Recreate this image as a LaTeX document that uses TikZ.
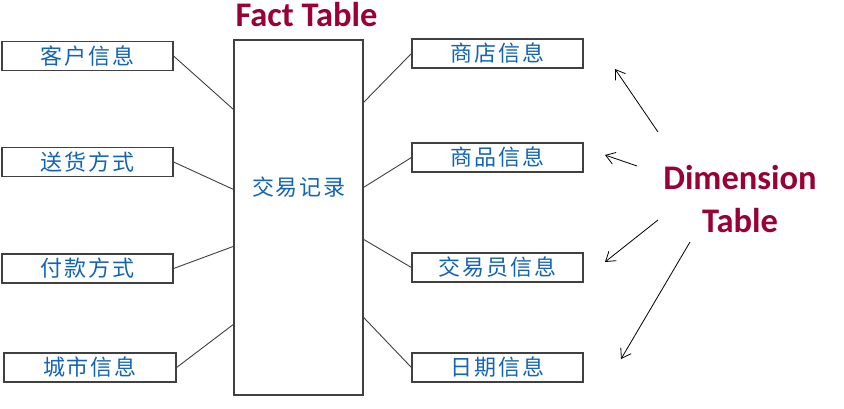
\documentclass[tikz,border=0pt]{standalone}
\usepackage{fontspec}
\setmainfont{Carlito}
\newfontfamily\cjk[LetterSpace=9]{Noto Sans CJK SC}
\usetikzlibrary{arrows.meta}
\definecolor{factred}{RGB}{153,0,51}
\definecolor{cjkblue}{RGB}{20,100,180}
\definecolor{edgegray}{RGB}{64,64,64}
\begin{document}
\begin{tikzpicture}[x=1pt,y=-1pt,
  dimbox/.style={draw=edgegray, line width=1.2pt, minimum width=171pt, minimum height=29pt,
    inner sep=0pt, font=\cjk\fontsize{22}{24}\selectfont, text=cjkblue},
  factbox/.style={draw=edgegray, line width=1.2pt, minimum width=129pt, minimum height=355pt,
    inner sep=0pt},
  factlabel/.style={inner sep=0pt, font=\cjk\fontsize{22}{24}\selectfont, text=cjkblue},
  link/.style={draw=edgegray, line width=0.9pt},
  pointer/.style={-{Straight Barb[length=9pt,width=12pt]}, line width=0.8pt, black},
  heading/.style={font=\bfseries\fontsize{34.5}{43}\selectfont, text=factred, inner sep=0pt}]
\fill[white] (0,0) rectangle (844,409);
\useasboundingbox (0,0) rectangle (844,409);

\node[factbox] (fact) at (298.5,217.5) {};
\node[factlabel] (factname) at (299,187) {交易记录};

\node[dimbox] (kehu) at (87.5,56) {客户信息};
\node[dimbox] (songhuo) at (87.5,162) {送货方式};
\node[dimbox] (fukuan) at (87.5,268.5) {付款方式};
\node[dimbox, minimum width=172pt] (chengshi) at (90,367.5) {城市信息};

\node[dimbox] (shangdian) at (497.5,53.5) {商店信息};
\node[dimbox] (shangpin) at (497.5,157.5) {商品信息};
\node[dimbox] (jiaoyiyuan) at (497.5,267.5) {交易员信息};
\node[dimbox] (riqi) at (497.5,367.5) {日期信息};

\draw[link] (kehu.east) -- ([yshift=-70pt]fact.north west);
\draw[link] (songhuo.east) -- ([yshift=-150pt]fact.north west);
\draw[link] (fukuan.east) -- ([yshift=-207pt]fact.north west);
\draw[link] (chengshi.east) -- ([yshift=-285pt]fact.north west);

\draw[link] (shangdian.west) -- ([yshift=-63pt]fact.north east);
\draw[link] (shangpin.west) -- ([yshift=-148pt]fact.north east);
\draw[link] (jiaoyiyuan.west) -- ([yshift=-200pt]fact.north east);
\draw[link] (riqi.west) -- ([yshift=-278pt]fact.north east);

\node[heading, anchor=base] (facttitle) at (306.5,27) {Fact Table};
\node[heading, align=center] (dimtitle) at (740,199) {Dimension\\Table};

\coordinate (s1) at (658,132); \coordinate (t1) at (615,69);
\coordinate (s2) at (637,166); \coordinate (t2) at (605,155);
\coordinate (s3) at (658,220); \coordinate (t3) at (605,262);
\coordinate (s4) at (690,242); \coordinate (t4) at (621,359);
\draw[pointer] (s1) -- (t1);
\draw[pointer] (s2) -- (t2);
\draw[pointer] (s3) -- (t3);
\draw[pointer] (s4) -- (t4);
\end{tikzpicture}
\end{document}
